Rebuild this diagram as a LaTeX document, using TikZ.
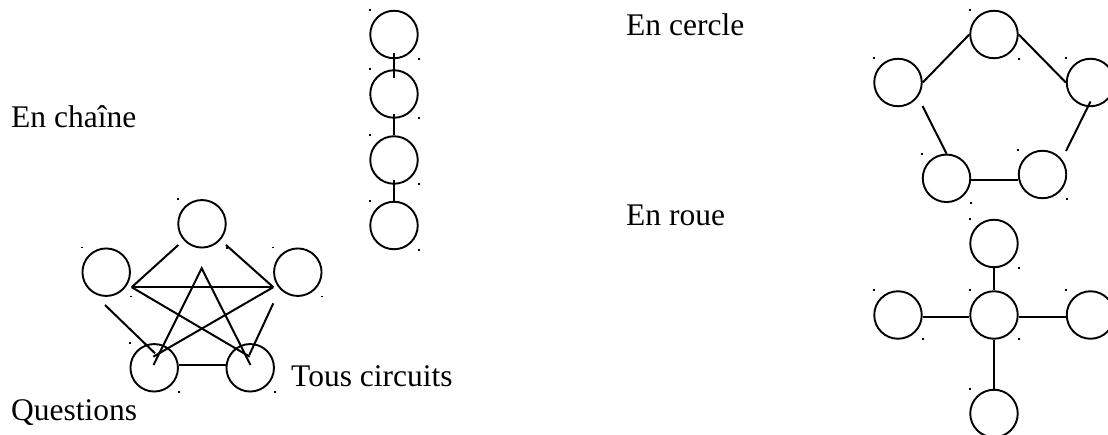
\documentclass[tikz,border=0pt]{standalone}
\usepackage{fontspec}
\setmainfont{Liberation Serif}
\newcommand\seldots[1]{%
  \fill ([shift={(-25.5,-25.5)}]#1.center) rectangle +(2,1.8);
  \fill ([shift={(23.5,23.5)}]#1.center) rectangle +(2,1.8);}
\begin{document}
\begin{tikzpicture}[x=1pt,y=-1pt,
  circ/.style={circle,draw,minimum size=47.5pt,inner sep=0pt,line width=1.9pt},
  conn/.style={line width=2pt},
  lbl/.style={anchor=base west,inner sep=0pt,font=\fontsize{31.5}{37}\selectfont}]
\useasboundingbox (0,0) rectangle (1108,435);
\clip (0,0) rectangle (1108,435);
\fill[white] (0,0) rectangle (1108,435);

% labels
\node[lbl] (tchaine) at (11,127.7) {En chaîne};
\node[lbl] (tcercle) at (626,36) {En cercle};
\node[lbl] (troue) at (626,226) {En roue};
\node[lbl] (ttous) at (291,386) {Tous circuits};
\node[lbl] (tquest) at (11,420) {Questions};

% chain
\node[circ] (c1) at (394,34.5) {};
\node[circ] (c2) at (394,94) {};
\node[circ] (c3) at (394,160) {};
\node[circ] (c4) at (394,225.5) {};
\draw[conn] ([shift={(0,-6.3)}]c1.south) -- ([shift={(0,9)}]c2.north);
\draw[conn] ([shift={(0,-4.7)}]c2.south) -- (c3.north);
\draw[conn] ([shift={(0,-5)}]c3.south) -- (c4.north);
\seldots{c1}\seldots{c2}\seldots{c3}\seldots{c4}

% circle
\node[circ] (ct) at (994,34.5) {};
\node[circ] (cl) at (898,82.5) {};
\node[circ] (cr) at (1090.5,82.5) {};
\node[circ] (cbl) at (946.5,178.3) {};
\node[circ] (cbr) at (1042.5,174.5) {};
\draw[conn] (cl.east) -- (ct.west);
\draw[conn] (ct.east) -- (cr.west);
\draw[conn] ([shift={(0,19)}]cr.center) -- ([shift={(23.5,-23.5)}]cbr.center);
\draw[conn] ([shift={(24.5,23.5)}]cl.center) -- (cbl.north);
\draw[conn] ([shift={(0,1.7)}]cbl.east) -- ([shift={(0,1.7)}]cbl.east -| cbr.west);
\seldots{ct}\seldots{cl}\seldots{cr}\seldots{cbl}\seldots{cbr}

% wheel
\node[circ] (rt) at (994,243.5) {};
\node[circ] (rc) at (994,315) {};
\node[circ] (rl) at (898,315) {};
\node[circ] (rr) at (1090.5,315) {};
\node[circ] (rb) at (994,413.5) {};
\draw[conn] (rt.south) -- (rc.north);
\draw[conn] ([shift={(0,2)}]rl.east) -- ([shift={(0,2)}]rl.east -| rc.west);
\draw[conn] ([shift={(0,2)}]rc.east) -- ([shift={(0,2)}]rc.east -| rr.west);
\draw[conn] (rc.south) -- (rb.north);
\seldots{rt}\seldots{rc}\seldots{rl}\seldots{rr}\seldots{rb}

% all channels
\node[circ] (ft) at (202,223.8) {};
\node[circ] (fl) at (106.2,272.2) {};
\node[circ] (fr) at (297.8,272.2) {};
\node[circ] (fbl) at (154.2,367.8) {};
\node[circ] (fbr) at (250.2,367.8) {};
\draw[conn] ([shift={(-23.7,21.2)}]ft.center) -- ([shift={(25.5,15)}]fl.center);
\draw[conn] ([shift={(24,21.2)}]ft.center) -- ([shift={(-24.5,15)}]fr.center);
\draw[conn] ([shift={(25.5,15)}]fl.center) -- ([shift={(-24.5,15)}]fr.center);
\draw[conn] ([shift={(25.5,15)}]fl.center) -- ([shift={(-0.5,-11.1)}]fbr.center);
\draw[conn] ([shift={(-24.5,15)}]fr.center) -- ([shift={(-0.9,-11.1)}]fbl.center);
\draw[conn] ([shift={(-0.7,-2.8)}]fbl.center) -- ([shift={(-0.3,44.5)}]ft.center) -- ([shift={(0.3,-2.8)}]fbr.center);
\draw[conn] ([shift={(-1.2,32.8)}]fl.center) -- ([shift={(0.8,-14.5)}]fbl.center);
\draw[conn] ([shift={(-24.5,31.1)}]fr.center) -- ([shift={(-0.9,-12.8)}]fbr.center);
\draw[conn] ([shift={(24.5,-2.8)}]fbl.center) -- ([shift={(-24.5,-2.8)}]fbr.center);
\seldots{ft}\seldots{fl}\seldots{fr}\seldots{fbl}\seldots{fbr}
\end{tikzpicture}
\end{document}
